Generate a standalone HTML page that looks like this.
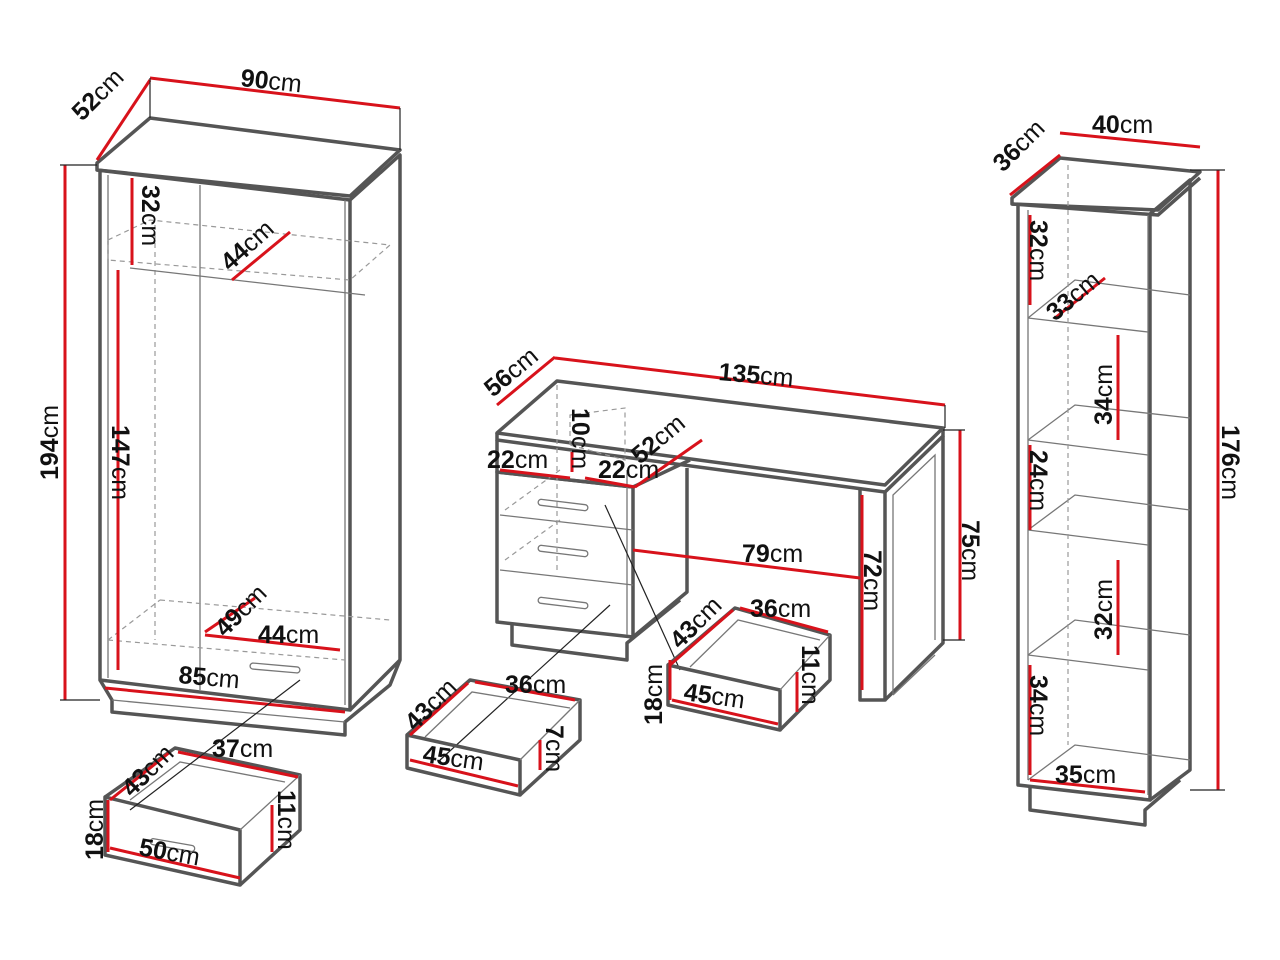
<!DOCTYPE html>
<html><head><meta charset="utf-8"><style>
html,body{margin:0;padding:0;background:#fff;}
svg{display:block;}
text{font-family:"Liberation Sans",sans-serif;font-size:25px;fill:#111;}
.b{font-weight:bold;}
.o{fill:none;stroke:#555;stroke-width:3.5;stroke-linejoin:round;}
.t{fill:none;stroke:#777;stroke-width:1.3;}
.d{fill:none;stroke:#999;stroke-width:1.2;stroke-dasharray:5 4;}
.r{fill:none;stroke:#d8121b;stroke-width:3;}
.k{fill:none;stroke:#222;stroke-width:1.2;}
</style></head><body>
<svg width="1280" height="960" viewBox="0 0 1280 960" xmlns="http://www.w3.org/2000/svg">
<!-- WARDROBE -->
<polygon class="o" points="97,163 150,118 400,150 350,196 97,170"/>
<polyline class="o" points="97,170 350,200 400,155 400,660 350,710"/>
<polyline class="o" points="100,172 100,680 350,710 350,200"/>
<line class="t" x1="108" y1="175" x2="108" y2="678"/>
<line class="t" x1="200" y1="185" x2="200" y2="690"/>
<line class="t" x1="345" y1="200" x2="345" y2="705"/>
<polyline class="o" points="100,680 112,700 112,712 345,735 345,722 390,685 400,660"/>
<line class="t" x1="112" y1="700" x2="345" y2="722"/>
<polygon class="d" points="108,240 150,220 390,245 350,280 108,260"/>
<line class="d" x1="155" y1="225" x2="155" y2="640"/>
<line class="d" x1="108" y1="640" x2="160" y2="600"/>
<line class="d" x1="160" y1="600" x2="390" y2="620"/>
<line class="d" x1="108" y1="640" x2="345" y2="660"/>
<rect x="250" y="665" width="50" height="6" rx="3" class="t" transform="rotate(5 275 668)"/>
<line class="t" x1="130" y1="268" x2="365" y2="295"/>
<line class="r" x1="65" y1="165" x2="65" y2="700"/>
<line class="r" x1="150" y1="78" x2="400" y2="108"/>
<line class="r" x1="97" y1="160" x2="150" y2="80"/>
<line class="r" x1="132" y1="178" x2="132" y2="265"/>
<line class="r" x1="232" y1="280" x2="290" y2="232"/>
<line class="r" x1="118" y1="270" x2="118" y2="670"/>
<line class="r" x1="205" y1="632" x2="255" y2="598"/>
<line class="r" x1="205" y1="635" x2="340" y2="650"/>
<line class="r" x1="105" y1="688" x2="345" y2="712"/>
<line class="k" x1="60" y1="165" x2="97" y2="165"/>
<line class="k" x1="60" y1="700" x2="100" y2="700"/>
<line class="k" x1="150" y1="78" x2="150" y2="118"/>
<line class="k" x1="400" y1="108" x2="400" y2="150"/>
<!-- wardrobe drawer -->
<polygon class="o" points="105,797 240,830 240,885 105,855"/>
<polyline class="o" points="105,797 175,748 300,775 300,830 240,885"/>
<polyline class="t" points="130,800 180,762 285,782"/>
<line class="t" x1="240" y1="830" x2="300" y2="775"/>
<rect x="150" y="842" width="45" height="6" rx="3" class="t" transform="rotate(10 172 845)"/>
<line class="r" x1="110" y1="848" x2="240" y2="878"/>
<line class="r" x1="110" y1="800" x2="170" y2="752"/>
<line class="r" x1="178" y1="752" x2="298" y2="777"/>
<line class="r" x1="108" y1="800" x2="108" y2="852"/>
<line class="r" x1="272" y1="805" x2="272" y2="852"/>
<line class="k" x1="130" y1="810" x2="300" y2="680"/>
<!-- DESK -->
<polygon class="o" points="497,433 557,381 943,428 885,485"/>
<polyline class="o" points="497,433 497,440 885,492 943,436 943,428"/>
<polyline class="o" points="860,488 860,700 885,700 885,492"/>
<polyline class="o" points="885,700 943,643 943,436"/>
<polyline class="t" points="893,695 893,495 935,455 935,640"/>
<polyline class="t" points="893,695 935,655"/>
<polyline class="o" points="497,440 497,472 633,487 690,460"/>
<polyline class="o" points="687,468 687,592 633,637"/>
<polygon class="o" points="497,472 633,487 633,637 497,622"/>
<polyline class="o" points="512,624 512,645 627,660 627,643 680,600"/>
<line class="t" x1="500" y1="515" x2="633" y2="530"/>
<line class="t" x1="500" y1="570" x2="633" y2="585"/>
<line class="t" x1="627" y1="470" x2="627" y2="635"/>
<rect x="538" y="502" width="50" height="6" rx="3" class="t" transform="rotate(7 563 505)"/>
<rect x="538" y="548" width="50" height="6" rx="3" class="t" transform="rotate(7 563 551)"/>
<rect x="538" y="600" width="50" height="6" rx="3" class="t" transform="rotate(7 563 603)"/>
<polygon class="d" points="570,445 570,415 625,408 625,460"/>
<line class="d" x1="557" y1="385" x2="557" y2="570"/>
<line class="d" x1="505" y1="510" x2="560" y2="470"/>
<line class="d" x1="505" y1="560" x2="560" y2="520"/>
<line class="r" x1="497" y1="405" x2="555" y2="357"/>
<line class="r" x1="555" y1="358" x2="945" y2="405"/>
<line class="k" x1="945" y1="405" x2="945" y2="428"/>
<line class="r" x1="500" y1="470" x2="570" y2="478"/>
<line class="r" x1="572" y1="452" x2="572" y2="472"/>
<line class="r" x1="585" y1="478" x2="635" y2="487"/>
<line class="r" x1="635" y1="487" x2="702" y2="440"/>
<line class="r" x1="633" y1="550" x2="860" y2="578"/>
<line class="r" x1="862" y1="495" x2="862" y2="690"/>
<line class="r" x1="960" y1="430" x2="960" y2="640"/>
<line class="k" x1="943" y1="430" x2="965" y2="430"/>
<line class="k" x1="943" y1="640" x2="965" y2="640"/>
<line class="k" x1="605" y1="505" x2="680" y2="670"/>
<line class="k" x1="440" y1="760" x2="610" y2="605"/>
<!-- desk drawer A -->
<polygon class="o" points="407,735 520,760 520,795 407,768"/>
<polyline class="o" points="407,735 470,680 580,700 580,740 520,795"/>
<polyline class="t" points="425,737 472,692 570,708"/>
<line class="t" x1="520" y1="760" x2="580" y2="700"/>
<line class="r" x1="410" y1="760" x2="518" y2="786"/>
<line class="r" x1="410" y1="735" x2="468" y2="683"/>
<line class="r" x1="475" y1="682" x2="575" y2="700"/>
<line class="r" x1="540" y1="740" x2="540" y2="770"/>
<!-- desk drawer B -->
<polygon class="o" points="668,665 780,690 780,730 668,705"/>
<polyline class="o" points="668,665 735,608 830,635 830,680 780,730"/>
<polyline class="t" points="690,667 738,620 820,640"/>
<line class="t" x1="780" y1="690" x2="830" y2="635"/>
<line class="r" x1="670" y1="660" x2="670" y2="700"/>
<line class="r" x1="672" y1="700" x2="778" y2="724"/>
<line class="r" x1="670" y1="665" x2="733" y2="610"/>
<line class="r" x1="740" y1="608" x2="828" y2="632"/>
<line class="r" x1="797" y1="672" x2="797" y2="712"/>
<!-- BOOKSHELF -->
<polygon class="o" points="1012,198 1060,158 1200,172 1158,210 1012,204"/>
<polyline class="o" points="1012,204 1158,215 1200,178"/>
<polyline class="o" points="1018,205 1018,785 1150,800 1150,214"/>
<polyline class="o" points="1150,214 1190,180 1190,770 1150,800"/>
<line class="t" x1="1028" y1="210" x2="1028" y2="780"/>
<line class="t" x1="1148" y1="215" x2="1148" y2="795"/>
<polyline class="o" points="1030,787 1030,810 1145,825 1145,810 1180,780"/>
<g class="t">
<polyline points="1028,318 1075,280 1190,295"/><line x1="1028" y1="318" x2="1148" y2="332"/>
<polyline points="1028,440 1075,405 1190,418"/><line x1="1028" y1="440" x2="1148" y2="455"/>
<polyline points="1028,530 1075,495 1190,510"/><line x1="1028" y1="530" x2="1148" y2="545"/>
<polyline points="1028,655 1075,620 1190,635"/><line x1="1028" y1="655" x2="1148" y2="670"/>
<polyline points="1028,780 1075,745 1190,760"/>
</g>
<line class="d" x1="1068" y1="165" x2="1068" y2="745"/>
<line class="r" x1="1010" y1="195" x2="1060" y2="155"/>
<line class="r" x1="1060" y1="133" x2="1200" y2="147"/>
<line class="r" x1="1218" y1="170" x2="1218" y2="790"/>
<line class="r" x1="1030" y1="215" x2="1030" y2="305"/>
<line class="r" x1="1055" y1="318" x2="1105" y2="278"/>
<line class="r" x1="1118" y1="335" x2="1118" y2="440"/>
<line class="r" x1="1030" y1="445" x2="1030" y2="530"/>
<line class="r" x1="1118" y1="560" x2="1118" y2="655"/>
<line class="r" x1="1030" y1="665" x2="1030" y2="775"/>
<line class="r" x1="1030" y1="780" x2="1145" y2="792"/>
<line class="k" x1="1190" y1="170" x2="1225" y2="170"/>
<line class="k" x1="1190" y1="790" x2="1225" y2="790"/>
<!-- LABELS -->
<g>
<text transform="translate(82,122) rotate(-45)"><tspan class="b">52</tspan>cm</text>
<text transform="translate(240,86) rotate(6)"><tspan class="b">90</tspan>cm</text>
<text transform="translate(58,480) rotate(-90)"><tspan class="b">194</tspan>cm</text>
<text transform="translate(142,185) rotate(90)"><tspan class="b">32</tspan>cm</text>
<text transform="translate(230,272) rotate(-42)"><tspan class="b">44</tspan>cm</text>
<text transform="translate(112,425) rotate(90)"><tspan class="b">147</tspan>cm</text>
<text transform="translate(225,638) rotate(-45)"><tspan class="b">49</tspan>cm</text>
<text x="258" y="643"><tspan class="b">44</tspan>cm</text>
<text transform="translate(178,683) rotate(5)"><tspan class="b">85</tspan>cm</text>
<text transform="translate(132,798) rotate(-45)"><tspan class="b">43</tspan>cm</text>
<text x="212" y="757"><tspan class="b">37</tspan>cm</text>
<text transform="translate(103,860) rotate(-90)"><tspan class="b">18</tspan>cm</text>
<text transform="translate(278,790) rotate(90)"><tspan class="b">11</tspan>cm</text>
<text transform="translate(138,855) rotate(10)"><tspan class="b">50</tspan>cm</text>
<text transform="translate(493,398) rotate(-40)"><tspan class="b">56</tspan>cm</text>
<text transform="translate(718,380) rotate(5)"><tspan class="b">135</tspan>cm</text>
<text transform="translate(572,408) rotate(90)"><tspan class="b">10</tspan>cm</text>
<text transform="translate(640,465) rotate(-40)"><tspan class="b">52</tspan>cm</text>
<text x="487" y="468"><tspan class="b">22</tspan>cm</text>
<text x="598" y="478"><tspan class="b">22</tspan>cm</text>
<text x="742" y="562"><tspan class="b">79</tspan>cm</text>
<text transform="translate(864,550) rotate(90)"><tspan class="b">72</tspan>cm</text>
<text transform="translate(962,520) rotate(90)"><tspan class="b">75</tspan>cm</text>
<text transform="translate(680,650) rotate(-45)"><tspan class="b">43</tspan>cm</text>
<text x="750" y="617"><tspan class="b">36</tspan>cm</text>
<text transform="translate(802,645) rotate(90)"><tspan class="b">11</tspan>cm</text>
<text transform="translate(662,725) rotate(-90)"><tspan class="b">18</tspan>cm</text>
<text transform="translate(683,700) rotate(8)"><tspan class="b">45</tspan>cm</text>
<text transform="translate(415,732) rotate(-45)"><tspan class="b">43</tspan>cm</text>
<text x="505" y="693"><tspan class="b">36</tspan>cm</text>
<text transform="translate(546,725) rotate(90)"><tspan class="b">7</tspan>cm</text>
<text transform="translate(422,762) rotate(8)"><tspan class="b">45</tspan>cm</text>
<text transform="translate(1003,173) rotate(-45)"><tspan class="b">36</tspan>cm</text>
<text x="1092" y="133"><tspan class="b">40</tspan>cm</text>
<text transform="translate(1030,220) rotate(90)"><tspan class="b">32</tspan>cm</text>
<text transform="translate(1055,322) rotate(-40)"><tspan class="b">33</tspan>cm</text>
<text transform="translate(1112,425) rotate(-90)"><tspan class="b">34</tspan>cm</text>
<text transform="translate(1030,450) rotate(90)"><tspan class="b">24</tspan>cm</text>
<text transform="translate(1112,640) rotate(-90)"><tspan class="b">32</tspan>cm</text>
<text transform="translate(1030,675) rotate(90)"><tspan class="b">34</tspan>cm</text>
<text x="1055" y="783"><tspan class="b">35</tspan>cm</text>
<text transform="translate(1222,425) rotate(90)"><tspan class="b">176</tspan>cm</text>
</g>
</svg>
</body></html>
